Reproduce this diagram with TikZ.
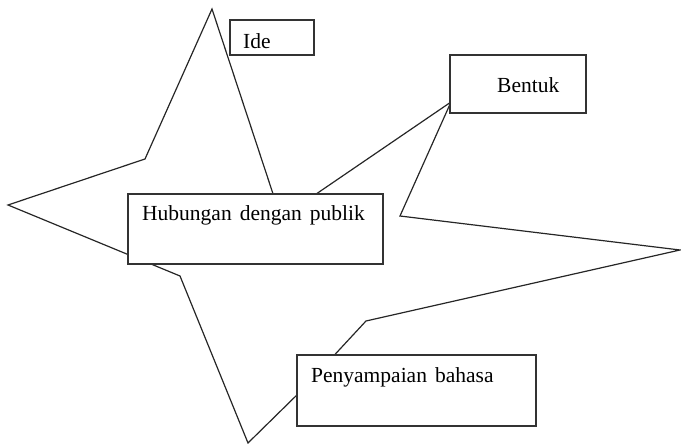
\documentclass[tikz,border=0pt]{standalone}
\usepackage{fontspec}
\setmainfont{Liberation Serif}[WordSpace=1.5]
\begin{document}
\begin{tikzpicture}[x=1pt,y=1pt,
  star/.style={draw=black!85, line width=1.2pt, line join=miter},
  box/.style={draw=black!80, fill=white, line width=1.3pt, rectangle, inner sep=0pt},
  lbl/.style={anchor=base west, inner sep=0pt, font=\fontsize{21.5}{25}\selectfont}]
\useasboundingbox (0,0) rectangle (681,444);
% star polygon (pixel coords, y flipped)
\coordinate (p1) at (212,435);
\coordinate (p2) at (281,226);
\coordinate (p3) at (451,342);
\coordinate (p4) at (400,228);
\coordinate (p5) at (680,194);
\coordinate (p6) at (366,123);
\coordinate (p7) at (302,54);
\coordinate (p8) at (248,1);
\coordinate (p9) at (180,168);
\coordinate (p10) at (8,239);
\coordinate (p11) at (145,285);
\draw[star] (p1) -- (p2) -- (p3) -- (p4) -- (p5) -- (p6) -- (p7) -- (p8) -- (p9) -- (p10) -- (p11) -- cycle;
% boxes
\node[box, minimum width=84, minimum height=35] (ide) at (272,406.5) {};
\node[box, minimum width=136, minimum height=58] (bentuk) at (518,360) {};
\node[box, minimum width=255, minimum height=70] (hub) at (255.5,215) {};
\node[box, minimum width=239, minimum height=71] (peny) at (416.5,53.5) {};
% labels
\node[lbl] (tide) at (243,395) {Ide};
\node[lbl] (tbentuk) at (497,351.5) {Bentuk};
\node[lbl] (thub) at (142,223) {Hubungan dengan publik};
\node[lbl] (tpeny) at (311,61) {Penyampaian bahasa};
\end{tikzpicture}
\end{document}
